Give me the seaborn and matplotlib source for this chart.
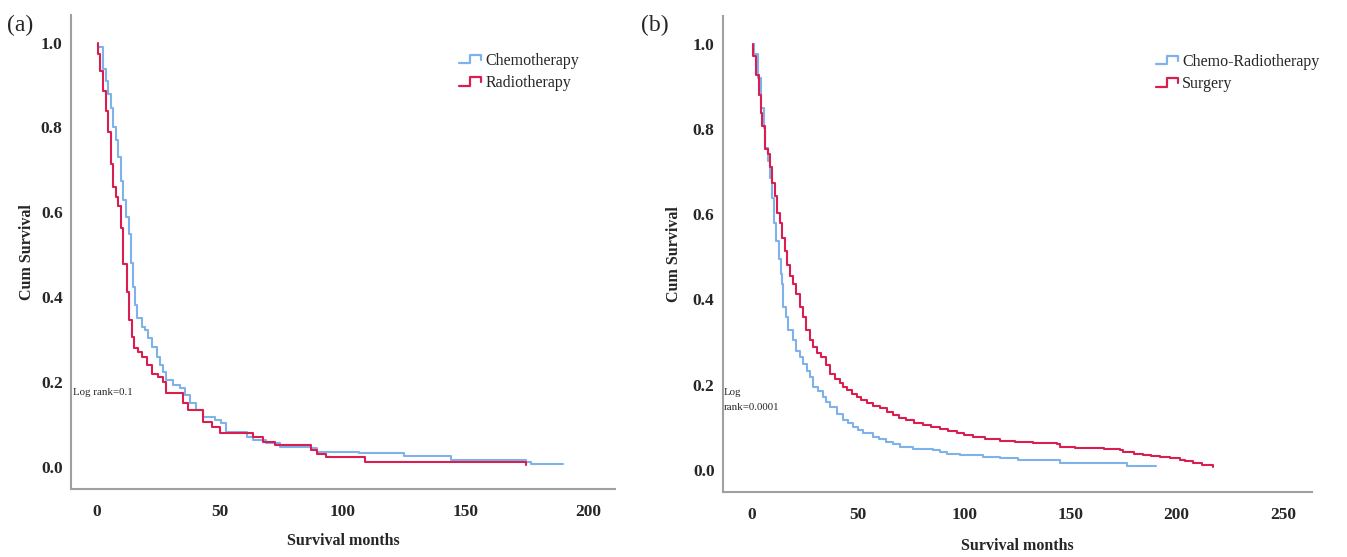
import matplotlib
matplotlib.use("Agg")
import matplotlib.pyplot as plt
from matplotlib.lines import Line2D
from matplotlib.legend_handler import HandlerBase
import seaborn as sns
import pandas as pd

# ---------------- data (time in months, cumulative survival) ----------------
a_chemo = [(0.8, 0.99), (2.6, 0.939), (3.7, 0.91), (4.6, 0.88), (5.7, 0.847), (6.6, 0.80),
           (7.7, 0.77), (8.7, 0.73), (9.6, 0.675), (10.7, 0.628), (11.8, 0.588), (12.9, 0.55),
           (13.8, 0.48), (14.8, 0.424), (15.4, 0.381), (16.4, 0.35), (18.2, 0.33), (19.5, 0.322),
           (20.9, 0.303), (22.2, 0.283), (24.3, 0.26), (25.6, 0.24), (27.0, 0.224), (28.3, 0.205),
           (31.0, 0.193), (33.7, 0.185), (35.8, 0.169), (37.8, 0.15), (40.5, 0.134), (43.2, 0.118),
           (48.0, 0.11), (50.7, 0.103), (52.7, 0.083), (60.9, 0.071), (63.5, 0.064), (69.0, 0.056),
           (74.4, 0.048), (87.3, 0.044), (89.8, 0.036), (106.9, 0.032), (125.2, 0.027),
           (144.2, 0.0165), (174.7, 0.0125), (176.7, 0.007), (190.0, 0.007)]
a_radio = [(0.3, 1.0), (0.5, 0.974), (1.2, 0.934), (2.6, 0.887), (3.7, 0.84), (4.6, 0.789),
           (5.7, 0.715), (6.6, 0.66), (7.7, 0.636), (8.7, 0.616), (9.6, 0.562), (10.7, 0.478),
           (12.1, 0.412), (13.1, 0.346), (14.1, 0.307), (15.2, 0.28), (16.8, 0.271), (18.2, 0.26),
           (20.2, 0.24), (22.2, 0.219), (24.8, 0.212), (26.8, 0.20), (28.3, 0.174), (35.0, 0.15),
           (37.0, 0.134), (43.0, 0.107), (47.0, 0.095), (50.0, 0.081), (63.4, 0.071), (67.5, 0.06),
           (72.4, 0.052), (87.3, 0.04), (89.8, 0.031), (93.4, 0.023), (109.0, 0.0125),
           (174.7, 0.005)]
b_chemorad = [(0.5, 1.0), (1.1, 0.975), (2.9, 0.919), (4.5, 0.849), (5.6, 0.802), (6.4, 0.755),
              (7.6, 0.724), (8.5, 0.685), (9.3, 0.639), (10.5, 0.58), (11.6, 0.537), (12.7, 0.495),
              (13.6, 0.46), (14.0, 0.436), (14.7, 0.382), (16.3, 0.358), (17.1, 0.327), (19.5, 0.304),
              (21.0, 0.28), (22.6, 0.265), (24.2, 0.249), (25.8, 0.232), (27.3, 0.218), (28.9, 0.195),
              (31.0, 0.185), (33.6, 0.171), (35.0, 0.16), (36.7, 0.148), (39.9, 0.132), (43.0, 0.117),
              (45.5, 0.11), (47.7, 0.101), (50.0, 0.094), (52.4, 0.086), (57.1, 0.078), (60.0, 0.073),
              (63.4, 0.066), (66.5, 0.06), (69.7, 0.054), (75.9, 0.048), (85.4, 0.047), (88.5, 0.042),
              (91.7, 0.037), (97.9, 0.035), (108.9, 0.030), (116.8, 0.027), (125.4, 0.023),
              (145.0, 0.017), (176.4, 0.009), (190.5, 0.008)]
b_surgery = [(0.5, 1.0), (0.6, 0.97), (2.2, 0.927), (3.3, 0.88), (4.2, 0.837), (5.0, 0.806),
             (6.1, 0.752), (7.4, 0.74), (8.5, 0.71), (9.6, 0.674), (10.8, 0.643), (11.9, 0.603),
             (13.2, 0.58), (14.3, 0.545), (15.5, 0.514), (16.6, 0.48), (18.0, 0.455), (19.5, 0.436),
             (21.0, 0.413), (22.6, 0.382), (24.2, 0.358), (25.7, 0.327), (27.3, 0.305), (28.9, 0.288),
             (30.8, 0.275), (32.8, 0.265), (34.8, 0.245), (36.7, 0.226), (39.0, 0.213), (41.4, 0.203),
             (43.0, 0.195), (44.6, 0.187), (47.0, 0.178), (49.3, 0.171), (51.5, 0.163), (54.0, 0.156),
             (57.0, 0.15), (60.3, 0.144), (63.5, 0.136), (66.5, 0.128), (69.5, 0.122), (72.8, 0.117),
             (76.5, 0.111), (80.7, 0.105), (84.5, 0.101), (88.5, 0.097), (92.5, 0.091), (96.4, 0.086),
             (100.0, 0.082), (104.2, 0.078), (110.0, 0.072), (116.8, 0.067), (124.0, 0.065),
             (132.4, 0.063), (143.5, 0.061), (145.0, 0.054), (152.0, 0.052), (159.1, 0.051),
             (166.0, 0.049), (173.3, 0.047), (174.8, 0.041), (180.0, 0.038), (184.2, 0.035),
             (188.0, 0.033), (192.1, 0.030), (197.0, 0.027), (201.5, 0.023), (204.0, 0.020),
             (207.8, 0.016), (212.0, 0.011), (217.2, 0.006)]

panel_labels = ["(a)", "(b)"]
a_series = ["Chemotherapy", "Radiotherapy"]
b_series = ["Chemo-Radiotherapy", "Surgery"]
a_xticks = [0, 50, 100, 150, 200]
b_xticks = [0, 50, 100, 150, 200, 250]
yticks = [0.0, 0.2, 0.4, 0.6, 0.8, 1.0]
a_note = "Log rank=0.1"
b_note = "Log\nrank=0.0001"

BLUE = "#7fb1ea"
RED = "#d81f50"

sns.set_style("white")
plt.rcParams["font.family"] = ["Liberation Serif", "DejaVu Serif"]


class StepHandler(HandlerBase):
    def create_artists(self, legend, orig_handle, xdescent, ydescent, width, height,
                       fontsize, trans):
        x0 = -xdescent
        y0 = -ydescent
        xs = [x0, x0 + 0.5 * width, x0 + 0.5 * width, x0 + width, x0 + width]
        ys = [y0 + 0.15 * height, y0 + 0.15 * height, y0 + 0.9 * height,
              y0 + 0.9 * height, y0 + 0.45 * height]
        ln = Line2D(xs, ys, color=orig_handle.get_color(), lw=1.6, transform=trans)
        return [ln]


fig = plt.figure(figsize=(13.47, 5.57), dpi=100)
ax_a = fig.add_axes([0.0527, 0.122, 0.4039, 0.851])
ax_b = fig.add_axes([0.5367, 0.1167, 0.4373, 0.8546])


def draw(ax, series, names, xlim, xticks, note, note_xy, leg_xy, lab_coords, tag, tag_xy):
    handles = []
    for pts, name, col in zip(series, names, [BLUE, RED]):
        df = pd.DataFrame(pts, columns=["t", "s"])
        sns.lineplot(data=df, x="t", y="s", ax=ax, color=col, lw=1.5,
                     drawstyle="steps-post", estimator=None, sort=False)
        handles.append(Line2D([], [], color=col, label=name))
    ax.set_xlim(*xlim)
    ax.set_ylim(-0.052, 1.065)
    ax.set_xticks(xticks)
    ax.set_xticklabels([str(v) for v in xticks])
    ax.set_yticks(yticks)
    ax.set_yticklabels([f"{v:.1f}" for v in yticks])
    ax.tick_params(length=0, labelsize=12.5)
    ax.tick_params(axis="x", pad=11)
    ax.tick_params(axis="y", pad=6)
    for lbl in ax.get_xticklabels() + ax.get_yticklabels():
        lbl.set_fontweight("bold")
    for side in ["top", "right"]:
        ax.spines[side].set_visible(False)
    for side in ["left", "bottom"]:
        ax.spines[side].set_color("#a0a0a0")
        ax.spines[side].set_linewidth(1.5)
    ax.set_xlabel("Survival months", fontsize=11.5, fontweight="bold")
    ax.set_ylabel("Cum Survival", fontsize=11.5, fontweight="bold")
    ax.xaxis.set_label_coords(0.5, lab_coords[1])
    ax.yaxis.set_label_coords(lab_coords[0], 0.5)
    ax.text(note_xy[0], note_xy[1], note, fontsize=7.8, ha="left", va="center",
            linespacing=1.75)
    ax.legend(handles=handles, loc="upper left", bbox_to_anchor=leg_xy,
              frameon=False, borderaxespad=0, borderpad=0, fontsize=11.5,
              handlelength=1.4, handletextpad=0.25, labelspacing=0.4,
              handler_map={Line2D: StepHandler()})
    fig.text(tag_xy[0], tag_xy[1], tag, fontsize=17, ha="left", va="center")


draw(ax_a, [a_chemo, a_radio], a_series, (-10.6, 211), a_xticks, a_note, (-9.8, 0.175),
     (0.713, 0.92), (-0.066, -0.093), panel_labels[0], (0.005, 0.955))
draw(ax_b, [b_chemorad, b_surgery], b_series, (-13.6, 263.7), b_xticks, b_note, (-13.2, 0.164),
     (0.735, 0.92), (-0.07, -0.097), panel_labels[1], (0.476, 0.955))

fig.savefig("out.png", dpi=100)
